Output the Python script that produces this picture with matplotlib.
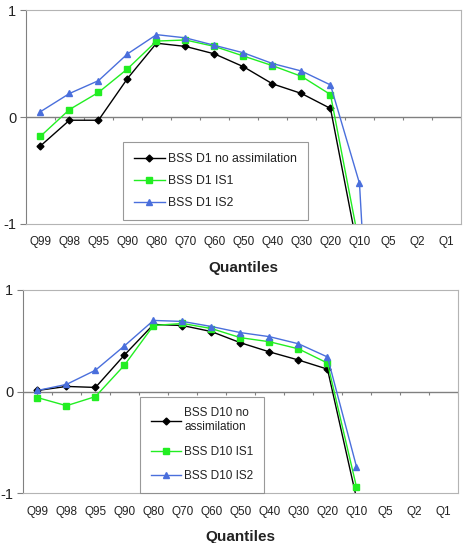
import numpy as np
import matplotlib.pyplot as plt

plt.rcParams['font.family'] = ['Liberation Sans', 'DejaVu Sans']

nan = np.nan

# Kategori kuantil
quantiles = ['Q99', 'Q98', 'Q95', 'Q90', 'Q80', 'Q70', 'Q60', 'Q50',
             'Q40', 'Q30', 'Q20', 'Q10', 'Q5', 'Q2', 'Q1']

# Panel atas: D1
d1_no_assim = [-0.27, -0.03, -0.03, 0.36, 0.69, 0.66, 0.59, 0.47, 0.31, 0.22, 0.08, -1.32, nan, nan, nan]
d1_is1 = [-0.18, 0.07, 0.23, 0.45, 0.71, 0.72, 0.66, 0.57, 0.48, 0.38, 0.21, -1.20, nan, nan, nan]
d1_is2 = [0.05, 0.22, 0.34, 0.59, 0.77, 0.74, 0.67, 0.60, 0.50, 0.43, 0.30, -0.62, -5.4, nan, nan]

# Panel bawah: D10
d10_no_assim = [0.01, 0.05, 0.04, 0.36, 0.66, 0.65, 0.59, 0.48, 0.39, 0.31, 0.22, -1.05, nan, nan, nan]
d10_is1 = [-0.06, -0.14, -0.05, 0.26, 0.65, 0.67, 0.62, 0.53, 0.49, 0.42, 0.28, -0.94, nan, nan, nan]
d10_is2 = [0.01, 0.07, 0.21, 0.45, 0.70, 0.69, 0.64, 0.58, 0.54, 0.47, 0.34, -0.74, nan, nan, nan]

labels_d1 = ['BSS D1 no assimilation', 'BSS D1 IS1', 'BSS D1 IS2']
labels_d10 = ['BSS D10 no\nassimilation', 'BSS D10 IS1', 'BSS D10 IS2']

c_black = '#000000'
c_green = '#22ee22'
c_blue = '#4a6fdc'
grey_light = '#b4b4b4'
grey_dark = '#808080'
teks = '#222222'

x = np.arange(len(quantiles))

fig = plt.figure(figsize=(4.69, 5.43), dpi=100)
ax1 = fig.add_axes([0.0554, 0.5875, 0.9275, 0.394])
ax2 = fig.add_axes([0.049, 0.092, 0.9275, 0.374])


def gambar_panel(ax, s_no, s_is1, s_is2, labels, leg_anchor, leg_spacing, leg_font):
    ax.plot(x, s_no, color=c_black, lw=1, marker='D', ms=3.5, label=labels[0])
    ax.plot(x, s_is1, color=c_green, lw=1, marker='s', ms=4, label=labels[1])
    ax.plot(x, s_is2, color=c_blue, lw=1, marker='^', ms=4.5, label=labels[2])

    ax.set_xlim(-0.5, len(quantiles) - 0.5)
    ax.set_ylim(-1, 1)
    ax.set_yticks([-1, 0, 1])
    ax.set_yticklabels(['-1', '0', '1'], fontsize=10.5, color=teks)
    ax.tick_params(axis='y', length=4, color=grey_dark, pad=3)

    ax.set_xticks(x)
    ax.set_xticklabels(quantiles, fontsize=8.5, color=teks)
    ax.tick_params(axis='x', length=0, pad=9)
    ax.set_xlabel('Quantiles', fontsize=11, fontweight='bold', labelpad=9, color=teks)

    # sumbu kategori memotong di nol
    ax.axhline(0, color=grey_dark, lw=1, zorder=1)
    batas = np.arange(len(quantiles) + 1) - 0.5
    ax.vlines(batas, -0.03, 0, color=grey_dark, lw=0.8, zorder=1)

    for s in ['top', 'right', 'bottom']:
        ax.spines[s].set_color(grey_light)
    ax.spines['left'].set_color(grey_dark)

    leg = ax.legend(loc='lower left', bbox_to_anchor=leg_anchor, fontsize=leg_font,
                    frameon=True, fancybox=False, edgecolor=grey_dark,
                    labelspacing=leg_spacing, handlelength=2.5,
                    handletextpad=0.3, borderpad=0.9, borderaxespad=0)
    leg.get_frame().set_linewidth(0.8)
    for t in leg.get_texts():
        t.set_color(teks)


gambar_panel(ax1, d1_no_assim, d1_is1, d1_is2, labels_d1, (0.223, 0.019), 0.8, 8.8)
gambar_panel(ax2, d10_no_assim, d10_is1, d10_is2, labels_d10, (0.27, 0.0), 1.07, 8.5)

fig.savefig('out.png', dpi=100)
